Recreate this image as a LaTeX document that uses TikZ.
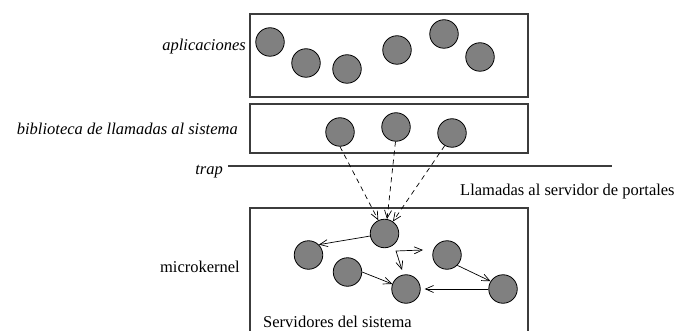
\documentclass[tikz,border=0pt]{standalone}
\usepackage{fontspec}
\setmainfont{Liberation Serif}
\usetikzlibrary{arrows.meta}
\definecolor{procfill}{RGB}{128,128,128}
\definecolor{framegray}{RGB}{60,60,60}
\begin{document}
\begin{tikzpicture}[x=1pt,y=-1pt,
  proc/.style={circle,draw=black,fill=procfill,line width=0.8pt,minimum size=28.5pt,inner sep=0pt},
  frame/.style={draw=framegray,line width=1.1pt},
  lbl/.style={inner sep=0pt,font=\fontsize{16.5}{20}\selectfont},
  call/.style={draw=black,line width=0.7pt,-{Straight Barb[length=8pt,width=7pt]}},
  syscall/.style={call,dash pattern=on 5pt off 4pt}]
\useasboundingbox (0,0) rectangle (674,331);

% layer frames
\draw[frame] (250,14) rectangle (528,97);
\draw[frame] (250,104) rectangle (528,153);
\draw[frame] (250,333) -- (250,208) -- (528,208) -- (528,333);
\draw[draw=framegray,line width=2pt] (228,166) -- (612,166);

% labels
\node[lbl,anchor=base east] (lapp) at (246,51) {\itshape aplicaciones};
\node[lbl,anchor=base east] (llib) at (238,135) {\itshape biblioteca de llamadas al sistema};
\node[lbl,anchor=base east] (ltrap) at (223,175) {\itshape trap};
\node[lbl,anchor=base west] (lport) at (460,196) {Llamadas al servidor de portales};
\node[lbl,anchor=base east] (lmk) at (240,272) {microkernel};
\node[lbl,anchor=base west] (lsrv) at (263,327) {Servidores del sistema};

% application processes
\node[proc] (u1) at (270,42) {};
\node[proc] (u2) at (306,63) {};
\node[proc] (u3) at (347,69) {};
\node[proc] (u4) at (397,50) {};
\node[proc] (u5) at (444,34) {};
\node[proc] (u6) at (480,57) {};

% library stubs
\node[proc] (b1) at (340,132) {};
\node[proc] (b2) at (396,127) {};
\node[proc] (b3) at (452,133) {};

% system servers
\node[proc] (sa) at (384.5,233.5) {};
\node[proc] (sb) at (308.5,255) {};
\node[proc] (sc) at (347.5,272) {};
\node[proc] (sd) at (406,289) {};
\node[proc] (se) at (447,255) {};
\node[proc] (sf) at (503,289) {};

% calls into the port server
\draw[syscall] (b1.270) -- (sa.115);
\draw[syscall] (b2.268) -- (sa.80);
\draw[syscall] (b3.240) -- (sa.55);

% messages between servers
\draw[call] (sa.190) -- (sb.45);
\draw[call] (sc.0) -- (sd.160);
\draw[call] (se.-45) -- (sf.148);
\draw[call,shorten >=4pt] (sf.180) -- (sd.0);

\coordinate (knee) at (396,251);
\coordinate (kright) at (423,250);
\coordinate (kdown) at (402,270);
\draw[call,{Straight Barb[length=8pt,width=7pt]}-{Straight Barb[length=8pt,width=7pt]}] (kright) -- (knee) -- (kdown);
\end{tikzpicture}
\end{document}
